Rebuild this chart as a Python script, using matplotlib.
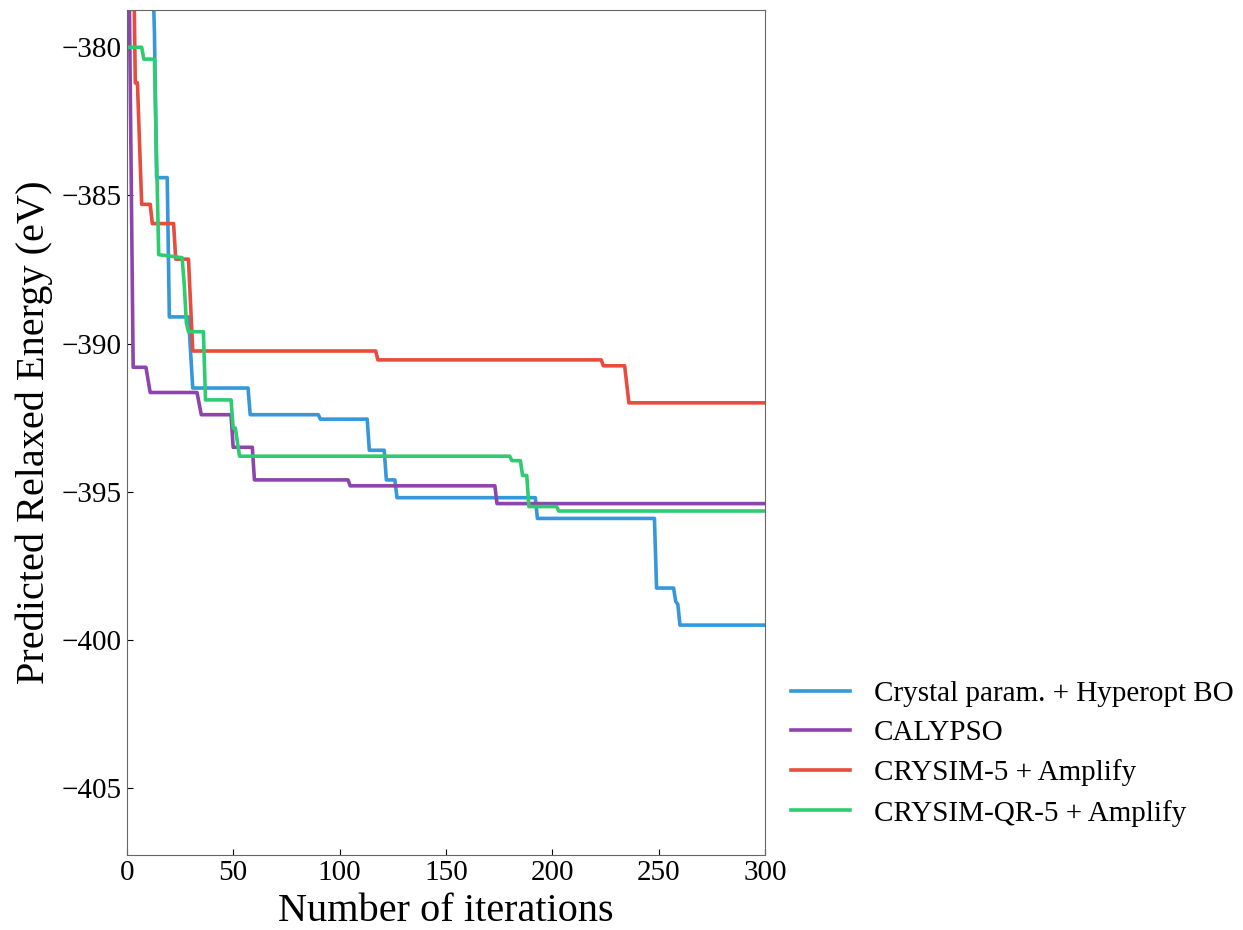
import matplotlib.pyplot as plt
import numpy as np

plt.rcParams['font.family'] = ['Liberation Serif', 'DejaVu Serif']
plt.rcParams['mathtext.fontset'] = 'stix'

# best energy so far, (iteration, energy) breakpoints
hyperopt_it = [0, 12, 13, 14, 19, 20, 29, 31, 57, 58, 90, 91, 113, 114, 121, 122,
               126, 127, 192, 193, 248, 249, 257, 258, 259, 260, 300]
hyperopt_e = [-372.0, -377.0, -379.5, -384.4, -384.4, -389.1, -389.1, -391.5, -391.5,
              -392.4, -392.4, -392.55, -392.55, -393.6, -393.6, -394.6, -394.6, -395.2,
              -395.2, -395.9, -395.9, -398.25, -398.25, -398.7, -398.8, -399.5, -399.5]

calypso_it = [0, 3, 9, 11, 33, 35, 49, 50, 59, 60, 104, 105, 173, 174, 300]
calypso_e = [-370.0, -390.8, -390.8, -391.65, -391.65, -392.4, -392.4, -393.5, -393.5,
             -394.6, -394.6, -394.8, -394.8, -395.4, -395.4]

crysim_it = [0, 3, 4, 5, 7, 11, 12, 22, 23, 29, 31, 117, 118, 223, 224, 234, 236, 300]
crysim_e = [-372.0, -376.0, -381.2, -381.2, -385.3, -385.3, -385.95, -385.95, -387.15,
            -387.15, -390.25, -390.25, -390.55, -390.55, -390.75, -390.75, -392.0, -392.0]

crysim_qr_it = [0, 7, 8, 13, 15, 26, 27, 28, 29, 36, 37, 49, 50, 51, 53, 180, 181, 185,
                186, 188, 189, 202, 203, 300]
crysim_qr_e = [-380.0, -380.0, -380.4, -380.4, -387.0, -387.1, -388.0, -389.3, -389.6,
               -389.6, -391.9, -391.9, -392.85, -392.85, -393.8, -393.8, -393.95, -393.95,
               -394.45, -394.45, -395.5, -395.5, -395.65, -395.65]

labels = ['Crystal param. + Hyperopt BO', 'CALYPSO', 'CRYSIM-5 + Amplify', 'CRYSIM-QR-5 + Amplify']
colors = ['#3498db', '#8e44ad', '#e74c3c', '#2ecc71']

fig = plt.figure(figsize=(12.43, 9.30), dpi=100)
ax = fig.add_axes([0.102, 0.0806, 0.5135, 0.9084])

series = [(hyperopt_it, hyperopt_e), (calypso_it, calypso_e),
          (crysim_it, crysim_e), (crysim_qr_it, crysim_qr_e)]
for (x, y), lab, c in zip(series, labels, colors):
    ax.plot(x, y, color=c, lw=2.6, label=lab)

ax.set_xlim(0, 300)
ax.set_ylim(-407.26, -378.75)
ax.set_xticks([0, 50, 100, 150, 200, 250, 300])
ax.set_yticks([-405, -400, -395, -390, -385, -380])
ax.tick_params(direction='in', labelsize=21, length=4)
for s in ax.spines.values():
    s.set_color('#666666')

ax.set_xlabel('Number of iterations', fontsize=29, labelpad=5)
ax.set_ylabel('Predicted Relaxed Energy (eV)', fontsize=29, labelpad=6)

fig.legend(loc='lower left', bbox_to_anchor=(0.615, 0.083), fontsize=21,
           frameon=False, handlelength=2.05, handletextpad=0.8, labelspacing=0.45)

fig.savefig('out.png', dpi=100)
